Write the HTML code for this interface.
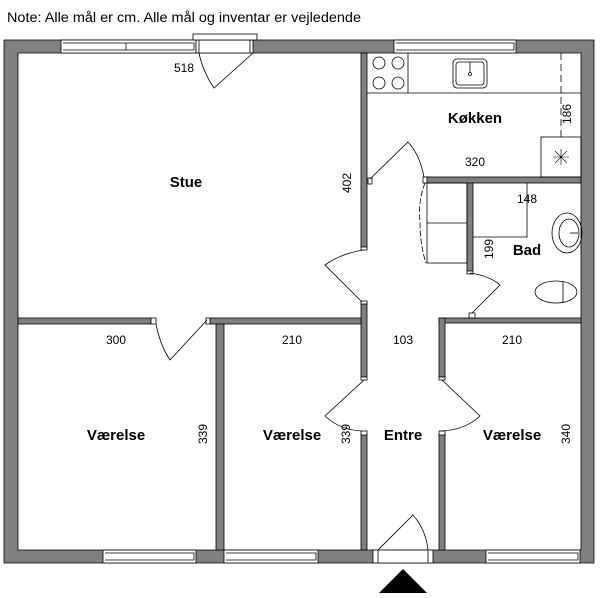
<!DOCTYPE html>
<html><head><meta charset="utf-8"><style>
html,body{margin:0;padding:0;background:#fff;width:600px;height:598px;overflow:hidden}
svg{display:block}
text{font-family:"Liberation Sans",sans-serif;fill:#000}
</style></head><body>
<svg width="600" height="598" viewBox="0 0 600 598" xmlns="http://www.w3.org/2000/svg">
<text x="7" y="22" font-size="13.5" textLength="354" lengthAdjust="spacingAndGlyphs">Note: Alle mål er cm. Alle mål og inventar er vejledende</text>
<g fill="#808080" stroke="#000" stroke-width="0.8">
<path fill-rule="evenodd" d="M4 40H594V563H4Z M18 53V550H581V53Z"/>
<!-- stue/kitchen wall -->
<rect x="361" y="53" width="6" height="194"/>
<!-- kitchen/bath wall -->
<rect x="425" y="177" width="156" height="6"/>
<!-- bath left wall -->
<rect x="467" y="183" width="6" height="88"/>
<!-- bath bottom wall -->
<rect x="439" y="318" width="142" height="5"/>
<!-- entre right wall -->
<rect x="439" y="318" width="6" height="59"/>
<rect x="439" y="434" width="6" height="116"/>
<!-- entre left wall -->
<rect x="361" y="303" width="6" height="74"/>
<rect x="361" y="434" width="6" height="116"/>
<!-- stue bottom wall -->
<rect x="18" y="318" width="133" height="6"/>
<rect x="210" y="318" width="151" height="6"/>
<!-- V1/V2 wall -->
<rect x="216" y="324" width="8" height="226"/>
</g>
<!-- jambs -->
<g fill="#fff" stroke="#000" stroke-width="0.8">
<rect x="361" y="247" width="6" height="3"/>
<rect x="361" y="301" width="6" height="3"/>
<rect x="368" y="178" width="4" height="6"/>
<rect x="423" y="177" width="4" height="6"/>
<rect x="467" y="271" width="6" height="3"/>
<rect x="469" y="313" width="6" height="5"/>
<rect x="151" y="318" width="5" height="6"/>
<rect x="206" y="318" width="4" height="6"/>
<rect x="361" y="377" width="6" height="3"/>
<rect x="361" y="431" width="6" height="4"/>
<rect x="439" y="377" width="6" height="3"/>
<rect x="439" y="431" width="6" height="4"/>
<!-- windows -->
<rect x="61" y="40" width="135" height="13"/>
<rect x="394" y="40" width="122" height="13"/>
<rect x="103" y="550" width="93" height="13"/>
<rect x="224" y="550" width="94" height="13"/>
<rect x="486" y="550" width="94" height="13"/>
<rect x="196" y="40" width="57" height="13"/>
<rect x="193" y="34" width="64" height="6"/>
<rect x="373" y="550" width="60" height="13"/>
</g>
<g fill="none" stroke="#000" stroke-width="0.8">
<path d="M63 43H194V50H63M126 43V50"/>
<path d="M396 43H514V50H396"/>
<path d="M105 553H194V560H105"/>
<path d="M226 553H316V560H226"/>
<path d="M488 553H578V560H488"/>
<path d="M199 40V53M250 40V53M378 550V563M428 550V563"/>
<!-- doors -->
<path d="M253 53L214 88Q203 72 199 53"/>
<path d="M370 179L408 142Q420 155 424 177"/>
<path d="M363 250Q340 254 325 265L362 302"/>
<path d="M470 273Q490 276 500 285L472 313"/>
<path d="M156 324Q160 345 170 360L207 320"/>
<path d="M364 380L325 416Q340 430 362 431"/>
<path d="M442 380L480 416Q465 430 441 431"/>
<path d="M378 550L413 515Q426 530 428 550"/>
<path d="M425 183Q418 200 420 222Q420 245 426 263" stroke-dasharray="6 2"/>
<!-- kitchen -->
<path d="M367 93H581M408 53V93"/>
<circle cx="379" cy="63" r="6"/><circle cx="398" cy="63" r="6"/>
<circle cx="379" cy="83" r="6"/><circle cx="398" cy="83" r="6"/>
<rect x="453" y="59" width="34" height="29" rx="4"/>
<rect x="456" y="62" width="28" height="23" rx="3"/>
<path d="M470 62V73"/><circle cx="470" cy="74" r="1.5"/>
<path d="M561 53V137" stroke-dasharray="7 4"/>
<rect x="541" y="137" width="40" height="40"/>
<path d="M553 157H569M561 149V165M555 151L567 163M567 151L555 163" stroke-width="0.6"/>
<!-- closet -->
<rect x="427" y="183" width="40" height="80"/>
<path d="M427 223H467"/>
<!-- bath -->
<path d="M527 183V237H473"/>
<ellipse cx="567" cy="233" rx="15" ry="20"/>
<ellipse cx="569" cy="233" rx="10" ry="14"/>
<path d="M570 233H578"/>
<ellipse cx="556" cy="292" rx="21" ry="11"/>
<path d="M563 281V303"/>
</g>
<polygon points="403,569 379,593 427,593" fill="#000"/>
<g font-size="12" text-anchor="middle">
<text x="184" y="72">518</text>
<text x="475" y="166">320</text>
<text x="527" y="203">148</text>
<text x="116" y="344">300</text>
<text x="292" y="344">210</text>
<text x="403" y="344">103</text>
<text x="512" y="344">210</text>
<text transform="translate(351,183) rotate(-90)">402</text>
<text transform="translate(571,114) rotate(-90)">186</text>
<text transform="translate(493,249) rotate(-90)">199</text>
<text transform="translate(207,434) rotate(-90)">339</text>
<text transform="translate(350,434) rotate(-90)">339</text>
<text transform="translate(570,434) rotate(-90)">340</text>
</g>
<g font-size="15" font-weight="bold" text-anchor="middle">
<text x="186" y="187">Stue</text>
<text x="475" y="123">Køkken</text>
<text x="527" y="255">Bad</text>
<text x="116" y="440">Værelse</text>
<text x="292" y="440">Værelse</text>
<text x="403" y="440">Entre</text>
<text x="512" y="440">Værelse</text>
</g>
</svg>
</body></html>
